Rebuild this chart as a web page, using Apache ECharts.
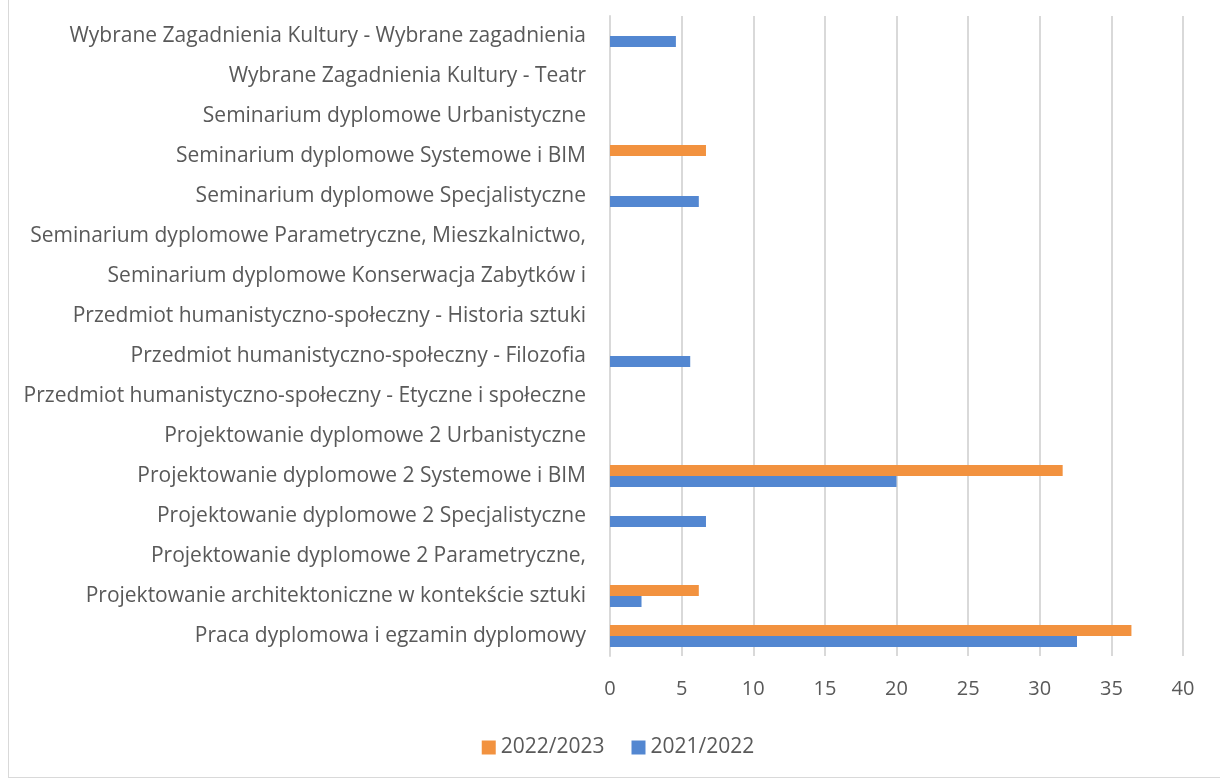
<!DOCTYPE html>
<html>
<head>
<meta charset="UTF-8">
<title>Chart</title>
<script src="https://cdn.jsdelivr.net/npm/echarts@6/dist/echarts.min.js"></script>
<style>
  body { margin: 0; background: #fff; }
  #main { position: absolute; left: 8px; top: -2px; width: 1220px; height: 780px; border: 1px solid #d9d9d9; box-sizing: border-box; }
</style>
</head>
<body>
<div id="main"></div>
<script type="text/javascript">
  // categories listed bottom -> top
  var categories = [
    'Praca dyplomowa i egzamin dyplomowy',
    'Projektowanie architektoniczne w kontekście sztuki',
    'Projektowanie dyplomowe 2 Parametryczne,',
    'Projektowanie dyplomowe 2 Specjalistyczne',
    'Projektowanie dyplomowe 2 Systemowe i BIM',
    'Projektowanie dyplomowe 2 Urbanistyczne',
    'Przedmiot humanistyczno-społeczny - Etyczne i społeczne',
    'Przedmiot humanistyczno-społeczny - Filozofia',
    'Przedmiot humanistyczno-społeczny - Historia sztuki',
    'Seminarium dyplomowe Konserwacja Zabytków i',
    'Seminarium dyplomowe Parametryczne, Mieszkalnictwo,',
    'Seminarium dyplomowe Specjalistyczne',
    'Seminarium dyplomowe Systemowe i BIM',
    'Seminarium dyplomowe Urbanistyczne',
    'Wybrane Zagadnienia Kultury - Teatr',
    'Wybrane Zagadnienia Kultury - Wybrane zagadnienia'
  ];
  var values2021 = [32.6, 2.2, null, 6.7, 20, null, null, 5.6, null, null, null, 6.2, null, null, null, 4.6];
  var values2022 = [36.4, 6.2, null, null, 31.6, null, null, null, null, null, null, null, 6.7, null, null, null];
  var xTicks = [0, 40, 5];

  var myChart = echarts.init(document.getElementById('main'));
  var textColor = '#595959';
  var font = '"Open Sans", sans-serif';

  var option = {
    animation: false,
    textStyle: { fontFamily: font },
    grid: { left: 601, right: 44, top: 17, bottom: 121 },
    legend: {
      data: ['2022/2023', '2021/2022'],
      top: 733,
      left: 'center',
      icon: 'rect',
      itemWidth: 14,
      itemHeight: 14,
      itemGap: 27,
      textStyle: { color: textColor, fontSize: 21, fontFamily: font }
    },
    xAxis: {
      type: 'value',
      min: xTicks[0],
      max: xTicks[1],
      interval: xTicks[2],
      axisLine: { show: false },
      axisTick: { show: false },
      splitLine: { lineStyle: { color: '#d9d9d9', width: 2 } },
      axisLabel: { color: textColor, fontSize: 20, margin: 23 }
    },
    yAxis: {
      type: 'category',
      data: categories,
      axisLine: { show: true, lineStyle: { color: '#d9d9d9', width: 2 } },
      axisTick: { show: false },
      axisLabel: { color: textColor, fontSize: 21, margin: 24 }
    },
    series: [
      {
        name: '2022/2023',
        type: 'bar',
        data: values2022,
        barWidth: 11,
        barGap: '0%',
        itemStyle: { color: '#F2923F' }
      },
      {
        name: '2021/2022',
        type: 'bar',
        data: values2021,
        barWidth: 11,
        barGap: '0%',
        itemStyle: { color: '#5387D1' }
      }
    ]
  };

  myChart.setOption(option);
</script>
</body>
</html>
